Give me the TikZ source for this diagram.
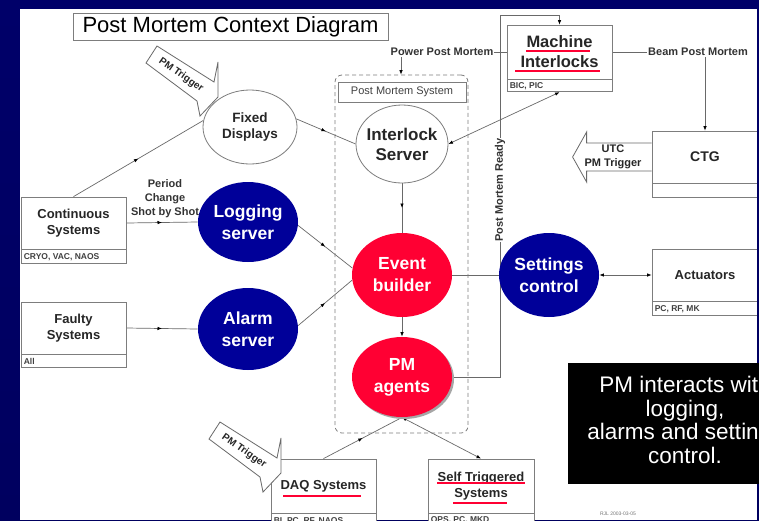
\documentclass[tikz,border=0pt]{standalone}
\usepackage{fontspec}
\setmainfont{Liberation Sans}
\usetikzlibrary{shapes.geometric,arrows.meta,decorations.markings,calc}

\definecolor{navy}{RGB}{0,0,153}
\definecolor{pmred}{RGB}{255,0,51}
\definecolor{linegray}{RGB}{105,105,105}
\definecolor{boxgray}{RGB}{125,125,125}
\definecolor{bgtop}{RGB}{0,0,105}
\definecolor{bgmid}{RGB}{0,0,150}
\definecolor{bgbot}{RGB}{0,0,95}

\pgfdeclarelayer{bg}
\pgfdeclarelayer{edges}
\pgfsetlayers{bg,edges,main}

\begin{document}
\begin{tikzpicture}[x=1pt,y=-1pt,
  >={Latex[length=4.5pt,width=3.5pt,color=black]},
  conn/.style={draw=linegray, line width=0.7pt},
  midarrow/.style={postaction={decorate,decoration={markings,mark=at position 0.5 with {\arrow{>}}}}},
  ellbase/.style={ellipse, inner sep=0pt, line width=0.8pt},
  redell/.style={ellbase, fill=pmred, draw=none},
  blueell/.style={ellbase, fill=navy, draw=none},
  whiteell/.style={ellbase, fill=white, draw=boxgray},
  elltext/.style={align=center, font=\bfseries\fontsize{17.5}{22}\selectfont, text=white, inner sep=0pt},
  sysmain/.style={draw=boxgray, fill=white, line width=0.8pt, align=center, inner sep=0pt,
                  font=\bfseries\fontsize{13}{16}\selectfont, text=black!85},
  sysstrip/.style={draw=boxgray, fill=white, line width=0.8pt, inner sep=0pt},
  striptext/.style={inner sep=0pt, font=\bfseries\fontsize{8.5}{10}\selectfont, text=black!75},
  flowlbl/.style={fill=white, inner sep=1pt, font=\bfseries\fontsize{11}{14}\selectfont, text=black!80, align=center},
  callout/.style={draw=linegray, fill=white, line width=0.8pt, line join=miter},
  callouttext/.style={inner sep=0pt, rotate=-35, font=\bfseries\fontsize{10}{11}\selectfont, text=black!85},
  redline/.style={draw=pmred, line width=2pt}
]
\useasboundingbox (0,0) rectangle (759,520);

% slide background and white sheet
\begin{pgfonlayer}{bg}
  \shade[top color=bgtop, middle color=bgmid, bottom color=bgbot] (0,0) rectangle (759,520);
  \fill[white] (20,9) rectangle (757,520);
\end{pgfonlayer}

% title
\node[draw=boxgray, fill=white, line width=1pt, minimum width=315, minimum height=27, inner sep=0pt,
      font=\fontsize{22}{26}\selectfont] (title) at (230.5,26.5) {Post Mortem Context Diagram};

% post mortem system frame
\node[draw=boxgray, dashed, dash pattern=on 4pt off 3pt, rounded corners=7pt, line width=0.8pt,
      minimum width=133, minimum height=358, inner sep=0pt] (pms) at (401.5,254) {};
\node[draw=boxgray, fill=white, line width=0.8pt, minimum width=128, minimum height=20, inner sep=0pt,
      font=\fontsize{11}{13}\selectfont, text=black!75] (pmsl) at (402,92) {Post Mortem System};

% processes
\node[whiteell, minimum width=94, minimum height=74] (fd) at (250,127) {};
\node[elltext, text=black!85, font=\bfseries\fontsize{13.5}{16}\selectfont] (fdt) at (fd) {Fixed\\Displays};

\node[whiteell, minimum width=92, minimum height=78] (is) at (402,144) {};
\node[elltext, text=black!85, font=\bfseries\fontsize{17}{20}\selectfont] (ist) at (is) {Interlock\\Server};

\node[redell, minimum width=100, minimum height=84] (eb) at (402,275) {};
\node[elltext] (ebt) at (eb) {Event\\builder};

\node[ellbase, fill=black!35, minimum width=100, minimum height=80] (pmash) at (404,379) {};
\node[redell, minimum width=100, minimum height=80] (pma) at (402,377) {};
\node[elltext] (pmat) at (pma) {PM\\agents};

\node[blueell, minimum width=100, minimum height=80] (lg) at (248,222) {};
\node[elltext] (lgt) at (lg) {Logging\\server};

\node[blueell, minimum width=100, minimum height=82] (al) at (248,329) {};
\node[elltext] (alt) at (al) {Alarm\\server};

\node[blueell, minimum width=100, minimum height=84] (sc) at (549,275) {};
\node[elltext] (sct) at (sc) {Settings\\control};

% external systems
\node[sysmain, minimum width=105, minimum height=54, font=\bfseries\fontsize{16.5}{20}\selectfont] (mi) at (559.5,52) {Machine\\Interlocks};
\node[sysstrip, minimum width=105, minimum height=12, anchor=north] (mis) at (mi.south) {};
\node[striptext, anchor=west] (mil) at ([xshift=3pt]mis.west) {BIC, PIC};
\draw[redline] (526,51) -- (590,51);
\draw[redline] (515,71) -- (600,71);

\node[sysmain, minimum width=106, minimum height=52, font=\bfseries\fontsize{14}{16}\selectfont] (ctg) at (705,157) {CTG};
\node[sysstrip, minimum width=106, minimum height=14, anchor=north] (ctgs) at (ctg.south) {};

\node[sysmain, minimum width=106, minimum height=52] (act) at (705,275) {Actuators};
\node[sysstrip, minimum width=106, minimum height=14, anchor=north] (acts) at (act.south) {};
\node[striptext, anchor=west] (actl) at ([xshift=3pt]acts.west) {PC, RF, MK};

\node[sysmain, minimum width=105, minimum height=52] (cs) at (73.5,223) {Continuous\\Systems};
\node[sysstrip, minimum width=105, minimum height=14, anchor=north] (css) at (cs.south) {};
\node[striptext, anchor=west] (csl) at ([xshift=3pt]css.west) {CRYO, VAC, NAOS};

\node[sysmain, minimum width=105, minimum height=52] (fs) at (73.5,328) {Faulty\\Systems};
\node[sysstrip, minimum width=105, minimum height=13, anchor=north] (fss) at (fs.south) {};
\node[striptext, anchor=west] (fsl) at ([xshift=3pt]fss.west) {All};

\node[sysmain, minimum width=105, minimum height=54] (daq) at (323.5,486) {DAQ Systems};
\node[sysstrip, minimum width=105, minimum height=14, anchor=north] (daqs) at (daq.south) {};
\node[striptext, anchor=west] (daql) at ([xshift=3pt]daqs.west) {BI, PC, RF, NAOS};
\draw[redline] (283,496) -- (361,496);

\node[sysmain, minimum width=106, minimum height=54] (st) at (481,486) {Self Triggered\\Systems};
\node[sysstrip, minimum width=106, minimum height=14, anchor=north] (sts) at (st.south) {};
\node[striptext, anchor=west] (stl) at ([xshift=3pt]sts.west) {QPS, PC, MKD};
\draw[redline] (437,483) -- (525,483);
\draw[redline] (453,503) -- (507,503);

% trigger callouts
\draw[callout] (157,46) -- (214,82) -- (218,62) -- (218,97) -- (200,116) -- (197,101) -- (146,63) -- cycle;
\node[callouttext] (trig1) at (181,75) {PM Trigger};

\begin{scope}[shift={(63,376)}]
  \draw[callout] (157,46) -- (214,82) -- (218,62) -- (218,97) -- (200,116) -- (197,101) -- (146,63) -- cycle;
  \node[callouttext] (trig2) at (181,75) {PM Trigger};
\end{scope}

\draw[callout] (ctg.west) ++(0,-14) -- ++(-65,0) -- ++(0,-11) -- ++(-14,25) -- ++(14,25) -- ++(0,-11) -- ++(65,0);
\node[inner sep=0pt, align=center, font=\bfseries\fontsize{11}{14}\selectfont, text=black!85] (utc) at (613,157) {UTC\\PM Trigger};

% data flows
\coordinate (pmrtop) at (500,15);
\coordinate (ppm) at (401,52);
\coordinate (bpm) at (705,52);
\begin{pgfonlayer}{edges}
  \draw[conn, midarrow] (cs.north) -- (fd.172);
  \draw[conn, midarrow] (cs.east) -- (lg.west);
  \draw[conn, midarrow] (fs.east) -- (al.west);
  \draw[conn, midarrow] (lg.-4) -- (eb.172);
  \draw[conn, midarrow] (al.4) -- (eb.186);
  \draw[conn, midarrow] (fd.10) -- (is.west);
  \draw[conn, <->] (is.east) -- (mis.south);
  \draw[conn, midarrow] (is.south) -- (eb.north);
  \draw[conn, ->] (eb.south) -- (pma.north);
  \draw[conn] (eb.east) -- (sc.west);
  \draw[conn, ->] (pma.east) -| (pmrtop) -| (mi.north);
  \draw[conn, ->] (mi.west) -- (ppm) -- (ppm |- pms.north);
  \draw[conn, ->] (mi.east) -- (bpm) -- (bpm |- ctg.north);
  \draw[conn, <->] (sc.east) -- (act.west);
  \draw[conn, midarrow] (daq.north) -- (pma.south);
  \draw[conn, <->] (pma.south) -- (st.north);
  \node[flowlbl, fill=none, inner sep=0pt] (period) at (165,199) {Period\\Change\\Shot by Shot};
  \node[flowlbl, rotate=90] (pmr) at (500,190) {Post Mortem Ready};
  \node[flowlbl] (ppml) at (442,52) {Power Post Mortem};
  \node[flowlbl] (bpml) at (698,52) {Beam Post Mortem};
\end{pgfonlayer}

\node[inner sep=0pt, font=\fontsize{5}{6}\selectfont, text=black!55] (stamp) at (618,514) {RJL 2003-03-05};

% right border of the slide
\shade[top color=bgtop, middle color=bgmid, bottom color=bgbot] (757,0) rectangle (759,520);

% note
\node[fill=black, minimum width=220, minimum height=121, anchor=north west, inner sep=0pt] (note) at (568,363) {};
\node[text=white, align=center, inner sep=0pt, font=\fontsize{22.5}{23.7}\selectfont] (notet) at (685,420)
  {PM interacts with\\logging,\\alarms and settings\\control.};
\end{tikzpicture}
\end{document}
